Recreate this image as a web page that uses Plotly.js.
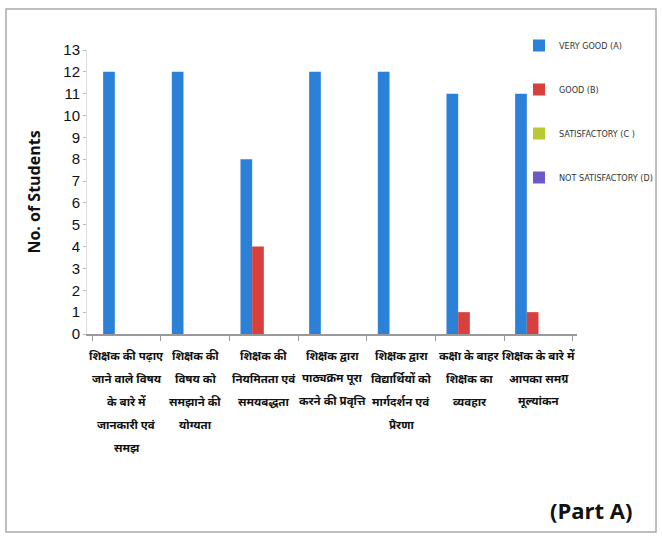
<!DOCTYPE html>
<html>
<head>
<meta charset="utf-8">
<script src="https://cdn.plot.ly/plotly-3.0.1.min.js"></script>
<style>
html,body{margin:0;padding:0;background:#fff;}
#chart{width:662px;height:543px;}
</style>
</head>
<body>
<div id="chart"></div>
<script>
var categories = [
  "शिक्षक की पढ़ाए<br>जाने वाले विषय<br>के बारे में<br>जानकारी एवं<br>समझ",
  "शिक्षक की<br>विषय को<br>समझाने की<br>योग्यता",
  "शिक्षक की<br>नियमितता एवं<br>समयबद्धता",
  "शिक्षक द्वारा<br>पाठ्यक्रम पूरा<br>करने की प्रवृत्ति",
  "शिक्षक द्वारा<br>विद्यार्थियों को<br>मार्गदर्शन एवं<br>प्रेरणा",
  "कक्षा के बाहर<br>शिक्षक का<br>व्यवहार",
  "शिक्षक के बारे में<br>आपका समग्र<br>मूल्यांकन"
];
var seriesNames = ["VERY GOOD (A)", "GOOD (B)", "SATISFACTORY (C )", "NOT SATISFACTORY (D)"];
var veryGood = [12, 12, 8, 12, 12, 11, 11];
var good = [0, 0, 4, 0, 0, 1, 1];
var satisfactory = [0, 0, 0, 0, 0, 0, 0];
var notSatisfactory = [0, 0, 0, 0, 0, 0, 0];
var yTicks = [0,1,2,3,4,5,6,7,8,9,10,11,12,13];

var colors = ["#2b80d8", "#d8403e", "#b8c934", "#6b5bc9"];
var values = [veryGood, good, satisfactory, notSatisfactory];
var traces = values.map(function(v, i){
  return {
    type: "bar", x: categories, y: v, name: seriesNames[i],
    marker: {color: colors[i]}, legendgroup: "g" + i
  };
});

// plot area geometry (pixels) used for positioning texts
var L = 87, T = 50, W = 490, H = 284;

// category labels as annotations, one per line, for wider line spacing
var labelAnn = [];
categories.forEach(function(c){
  c.split("<br>").forEach(function(line, j){
    labelAnn.push({
      text: line, x: c, xref: "x", yref: "paper",
      y: -(21 + j * 23) / H, xanchor: "center", yanchor: "middle",
      showarrow: false,
      font: {size: 11.5, color: "#111", family: "Noto Sans, sans-serif", weight: "bold"}
    });
  });
});

var layout = {
  width: 662, height: 543,
  margin: {l: L, r: 662 - L - W, t: T, b: 543 - T - H, autoexpand: false},
  paper_bgcolor: "#fff", plot_bgcolor: "#fff",
  barmode: "group", bargap: 0.32, bargroupgap: 0,
  font: {family: "Noto Sans, DejaVu Sans, sans-serif", color: "#111"},
  showlegend: true,
  legend: {
    xref: "container", yref: "container",
    x: 519 / 662, xanchor: "left", y: 1 - 31 / 543, yanchor: "top",
    font: {size: 9, color: "#333", family: "DejaVu Sans Condensed, Liberation Sans Narrow, Liberation Sans, sans-serif"},
    tracegroupgap: 25, itemwidth: 30, bgcolor: "rgba(0,0,0,0)"
  },
  xaxis: {
    type: "category", tickson: "boundaries", ticks: "outside", ticklen: 5,
    tickcolor: "#999", showline: true, linecolor: "#999", linewidth: 1.5,
    showticklabels: false, automargin: false
  },
  yaxis: {
    range: [0, 13], tickvals: yTicks, ticktext: yTicks.map(String),
    showgrid: false, zeroline: false, showline: true, linecolor: "#ddd",
    ticks: "outside", ticklen: 3, tickcolor: "#bbb", automargin: false,
    tickfont: {size: 15, color: "#111", family: "Liberation Sans Narrow, Liberation Sans, sans-serif"},
    title: {text: "No. of Students", standoff: 18,
      font: {size: 16, color: "#111", family: "Open Sans, sans-serif", weight: "bold"}}
  },
  annotations: labelAnn.concat([{
    text: "(Part A)", xref: "paper", yref: "paper", x: (634 - L) / W, y: -(510 - T - H) / H,
    xanchor: "right", yanchor: "middle", showarrow: false,
    font: {size: 22, color: "#111", family: "Open Sans, sans-serif", weight: "bold"}
  }]),
  shapes: [{
    type: "rect", xref: "paper", yref: "paper",
    x0: (6 - L) / W, x1: (656 - L) / W,
    y0: (T + H - 532) / H, y1: (T + H - 9) / H,
    line: {color: "#aaa", width: 1.5}, fillcolor: "rgba(0,0,0,0)"
  }]
};

Plotly.newPlot("chart", traces, layout, {displayModeBar: false, staticPlot: true});
</script>
</body>
</html>
